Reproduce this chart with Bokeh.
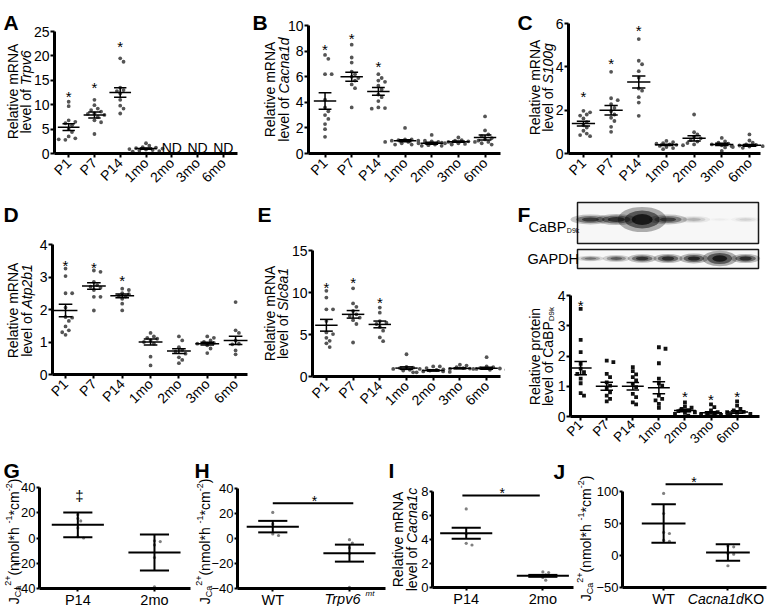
import math
from bokeh.plotting import figure
from bokeh.models import Range1d, FixedTicker
from bokeh.layouts import row, column
from bokeh.embed import file_html
from bokeh.resources import INLINE
from bokeh.core.properties import value

FONT = "Liberation Sans"
NAN = float("nan")

# ------------------------------------------------------------------ data
ages = ["P1", "P7", "P14", "1mo", "2mo", "3mo", "6mo"]

trpv6_pts = [[10.6, 9.7, 6.8, 6.5, 6.2, 5.8, 5.0, 4.4, 3.5, 3.1, 2.8, 2.9],
             [11.0, 9.9, 9.2, 8.9, 8.6, 8.2, 8.1, 7.9, 7.5, 6.8, 6.4, 4.0],
             [19.5, 18.8, 13.5, 13.0, 12.8, 12.3, 11.0, 9.8, 9.2, 8.2],
             [2.1, 1.6, 1.3, 1.2, 1.1, 1.0, 0.9, 0.8, 0.7, 0.6, 0.5, 0.4],
             [], [], []]
trpv6_mean = [5.4, 7.9, 12.5, 1.0, NAN, NAN, NAN]
trpv6_sem = [0.7, 0.6, 0.95, 0.15, NAN, NAN, NAN]
trpv6_star = [13.4, 15.3, 23.8, NAN, NAN, NAN, NAN]
trpv6_nd = ["", "", "", "", "ND", "ND", "ND"]
nd_level = 1.2

cacna1d_pts = [[7.7, 7.4, 6.2, 6.2, 4.2, 3.6, 3.3, 3.0, 2.7, 2.3, 1.9, 1.3],
               [8.5, 7.5, 7.1, 6.4, 6.2, 6.0, 5.9, 5.7, 5.4, 5.1, 3.6],
               [6.2, 5.9, 5.7, 5.6, 5.3, 5.0, 4.6, 4.4, 4.1, 3.6, 3.55, 3.5],
               [2.0, 1.1, 1.1, 1.05, 1.0, 1.0, 1.0, 0.9, 0.9, 0.8, 0.7, 0.7],
               [1.45, 0.95, 0.9, 0.85, 0.8, 0.8, 0.75, 0.7, 0.65, 0.6, 0.6],
               [1.25, 1.05, 1.0, 0.95, 0.9, 0.9, 0.85, 0.8, 0.75, 0.7],
               [2.9, 1.8, 1.5, 1.35, 1.2, 1.1, 1.0, 0.9, 0.8, 0.7]]
cacna1d_mean = [4.1, 6.0, 4.85, 1.0, 0.8, 0.92, 1.25]
cacna1d_sem = [0.65, 0.35, 0.3, 0.08, 0.07, 0.05, 0.2]
cacna1d_star = [8.8, 9.7, 7.5, NAN, NAN, NAN, NAN]

s100g_pts = [[1.97, 1.9, 1.8, 1.75, 1.62, 1.45, 1.3, 1.2, 1.05, 0.92, 0.85, 0.8],
             [3.77, 2.55, 2.46, 2.28, 2.1, 1.95, 1.8, 1.65, 1.5, 1.23, 1.0],
             [5.28, 4.28, 4.12, 3.8, 3.5, 3.0, 2.9, 2.6, 2.35, 1.74],
             [0.58, 0.52, 0.48, 0.45, 0.42, 0.4, 0.38, 0.35, 0.3, 0.25, 0.2],
             [1.8, 0.98, 0.88, 0.78, 0.7, 0.62, 0.55, 0.48, 0.42],
             [0.72, 0.56, 0.5, 0.46, 0.42, 0.38, 0.34, 0.28, 0.12],
             [0.88, 0.6, 0.5, 0.42, 0.4, 0.37, 0.34, 0.32, 0.3, 0.26]]
s100g_mean = [1.38, 2.0, 3.3, 0.4, 0.7, 0.42, 0.38]
s100g_sem = [0.11, 0.22, 0.28, 0.03, 0.12, 0.05, 0.04]
s100g_star = [3.05, 4.55, 6.1, NAN, NAN, NAN, NAN]

atp2b1_pts = [[3.26, 3.03, 2.5, 2.5, 2.06, 1.77, 1.75, 1.65, 1.48, 1.36, 1.3, 1.22],
              [3.2, 3.16, 2.85, 2.75, 2.7, 2.67, 2.6, 2.39, 2.39, 1.97],
              [2.64, 2.6, 2.5, 2.47, 2.42, 2.4, 2.33, 2.18, 1.97],
              [1.28, 1.17, 1.13, 1.1, 1.05, 1.0, 0.95, 0.55, 0.28],
              [1.17, 1.05, 0.84, 0.76, 0.7, 0.64, 0.53, 0.45, 0.35],
              [1.17, 1.13, 1.05, 1.0, 0.97, 0.95, 0.9, 0.8, 0.66],
              [2.23, 1.36, 1.28, 1.05, 0.95, 0.93, 0.74, 0.62]]
atp2b1_mean = [1.97, 2.72, 2.42, 1.0, 0.72, 0.95, 1.05]
atp2b1_sem = [0.19, 0.1, 0.06, 0.09, 0.07, 0.04, 0.13]
atp2b1_star = [3.64, 3.57, 3.16, NAN, NAN, NAN, NAN]

slc8a1_pts = [[10.2, 9.4, 8.0, 8.0, 6.6, 5.25, 5.05, 4.6, 4.25, 3.95, 3.5],
              [10.5, 8.7, 8.3, 7.8, 7.4, 7.2, 7.0, 6.7, 6.25, 4.05],
              [8.2, 7.6, 6.6, 6.4, 6.25, 5.9, 5.45, 4.65, 4.2],
              [2.65, 1.15, 1.05, 1.0, 0.9, 0.9, 0.8, 0.7, 0.5],
              [1.2, 1.2, 1.0, 0.8, 0.7, 0.6, 0.6, 0.55, 0.5],
              [1.4, 1.3, 1.1, 1.0, 0.95, 0.9, 0.9, 0.85],
              [2.3, 1.2, 1.1, 1.0, 0.95, 0.9, 0.8, 0.8]]
slc8a1_mean = [6.1, 7.4, 6.2, 1.0, 0.72, 0.97, 0.98]
slc8a1_sem = [0.7, 0.45, 0.4, 0.15, 0.08, 0.06, 0.12]
slc8a1_star = [11.7, 12.2, 9.9, NAN, NAN, NAN, NAN]

cabp_pts = [[3.56, 2.53, 2.13, 1.74, 1.58, 1.47, 1.41, 1.25, 1.1, 0.77, 0.69],
            [1.85, 1.8, 1.41, 1.3, 1.13, 1.02, 0.91, 0.8, 0.69, 0.58, 0.5],
            [1.63, 1.5, 1.39, 1.3, 1.19, 1.08, 0.97, 0.75, 0.64, 0.47, 0.4],
            [2.29, 2.24, 1.76, 1.25, 1.1, 1.02, 0.69, 0.58, 0.53, 0.42, 0.29],
            [0.47, 0.33, 0.29, 0.25, 0.2, 0.18, 0.14, 0.12, 0.09, 0.03],
            [0.4, 0.31, 0.2, 0.14, 0.11, 0.08, 0.07, 0.05, 0.03],
            [0.5, 0.36, 0.25, 0.2, 0.15, 0.14, 0.12, 0.09, 0.07]]
cabp_mean = [1.6, 1.0, 1.0, 0.95, 0.2, 0.12, 0.15]
cabp_sem = [0.22, 0.13, 0.12, 0.2, 0.04, 0.04, 0.04]
cabp_star = [3.97, NAN, NAN, NAN, 0.97, 0.84, 0.94]

# western blot band intensities per lane (P1 .. 6mo)
blot_cabp_int = [0.75, 0.8, 1.0, 0.7, 0.2, 0.03, 0.1]
blot_gapdh_int = [0.45, 0.55, 0.8, 0.85, 0.9, 1.0, 0.85]

g_cats = ["P14", "2mo"]
g_pts = [[18.5, 15.5, 13.5, 8.0, 1.0, 0.0], [-2.2, -2.8, -5.5, -15.5, -38.7]]
g_mean = [10.4, -11.5]
g_err = [9.8, 14.3]
g_dagger = 33.4

h_cats = ["WT", "Trpv6", "mt"]
h_pts = [[20.9, 11.6, 3.7, 2.4], [-0.9, -3.6, -7.5, -12.0, -39.0]]
h_mean = [9.5, -11.7]
h_err = [4.6, 6.8]
h_sig = 28.3
h_star = 36.8

i_cats = ["P14", "2mo"]
i_pts = [[6.55, 4.46, 3.68, 3.54], [1.3, 1.25, 1.06, 0.84, 0.61]]
i_mean = [4.52, 0.97]
i_err = [0.45, 0.08]
i_sig = 7.67
i_star = 8.6

j_cats = ["WT", "Cacna1d", "KO"]
j_pts = [[97.0, 65.6, 36.0, 34.4, 24.0, 22.0], [15.0, 13.5, 3.0, 2.0, -16.0]]
j_mean = [50.0, 4.7]
j_err = [30.0, 13.0]
j_sig = 111.5
j_star = 127.0

# ------------------------------------------------------------------ helpers
AW = {' ': 278, '(': 333, ')': 333, '*': 389, '+': 584, '-': 333, 'A': 667, 'B': 667,
      'C': 722, 'D': 722, 'G': 778, 'H': 722, 'J': 500, 'K': 667, 'M': 833, 'N': 722,
      'O': 778, 'P': 667, 'R': 722, 'S': 667, 'T': 611, 'W': 944, 'a': 556, 'b': 556,
      'c': 500, 'd': 556, 'e': 556, 'f': 278, 'g': 556, 'h': 556, 'i': 222, 'k': 500,
      'l': 222, 'm': 833, 'n': 556, 'o': 556, 'p': 556, 'r': 333, 's': 500, 't': 278,
      'v': 500}


def tw(s, size):
    return sum(AW.get(c, 556) for c in s) / 1000.0 * size


def panel(box, frame, xd, yd, yticks=None, tick_font="14px", tick_out=4, axes=True):
    """One figure whose plotting frame fills the whole canvas (page pixels); the axes are
    pinned (fixed_location) at the data minimum so every text can sit inside it."""
    bx0, by0, bx1, by1 = box
    l, r, t, b = frame
    xa, xb = xd
    y0, y1 = yd
    ppx = (r - l) / (xb - xa)
    ppu = (b - t) / (y1 - y0)
    xr = (xa - (l - bx0) / ppx, xb + (bx1 - r) / ppx)
    yr = (y0 - (by1 - b) / ppu, y1 + (t - by0) / ppu)
    kw = {}
    if not axes:
        kw = dict(x_axis_location=None, y_axis_location=None)
    p = figure(width=bx1 - bx0, height=by1 - by0, x_range=Range1d(*xr),
               y_range=Range1d(*yr), output_backend="svg", toolbar_location=None,
               title=None, min_border=0, min_border_left=0, min_border_right=0,
               min_border_top=0, min_border_bottom=0, **kw)
    p.grid.visible = False
    p.outline_line_color = None
    p.background_fill_color = "white"
    p.border_fill_color = "white"
    if axes:
        for ax in (p.xaxis[0], p.yaxis[0]):
            ax.axis_line_width = 3
            ax.axis_line_color = "black"
            ax.major_tick_line_width = 2
            ax.major_tick_in = 0
            ax.major_tick_out = tick_out
            ax.minor_tick_line_width = 2
            ax.minor_tick_in = 0
            ax.minor_tick_out = tick_out
            ax.minor_tick_line_color = "black"
            ax.major_label_text_font = FONT
            ax.major_label_text_font_size = tick_font
            ax.major_label_text_color = "black"
        p.yaxis.ticker = FixedTicker(ticks=yticks, minor_ticks=[])
        p.yaxis.bounds = (y0, y1)
        p.yaxis.fixed_location = xa
        p.yaxis.major_label_standoff = 1
        p.xaxis.bounds = (xa, xb)
        p.xaxis.fixed_location = y0
    return dict(p=p, fl=bx0, fr=bx1, ft=by0, fb=by1, xr=xr, yr=yr, ppu=ppu, ppx=ppx)


def to_data(info, lx, ly):
    x0, x1 = info['xr']
    y0, y1 = info['yr']
    dx = x0 + (lx - info['fl']) / (info['fr'] - info['fl']) * (x1 - x0)
    dy = y1 - (ly - info['ft']) / (info['fb'] - info['ft']) * (y1 - y0)
    return dx, dy


def data_lx(info, xd):
    x0, x1 = info['xr']
    return info['fl'] + (xd - x0) / (x1 - x0) * (info['fr'] - info['fl'])


def put_text(info, lx, ly, t, size, style="normal", angle=0.0, align="left",
             baseline="middle"):
    dx, dy = to_data(info, lx, ly)
    info['p'].text(x=[dx], y=[dy], text=[t], angle=angle, text_font=value(FONT),
                   text_font_size=f"{size}px", text_font_style=style,
                   text_align=align, text_baseline=baseline, text_color="black")


def rot_label(info, x_px, yc_px, pieces):
    total = sum(tw(t, sz) for t, sz, st, sh in pieces)
    pos = yc_px + total / 2.0
    for t, sz, st, sh in pieces:
        put_text(info, x_px + sh, pos, t, sz,
                 style="italic" if st == 'i' else "normal", angle=math.pi / 2)
        pos -= tw(t, sz)


def h_label(info, xc, y_px, pieces):
    total = sum(tw(t, sz) for t, sz, st, sh in pieces)
    pos = xc - total / 2.0
    for t, sz, st, sh in pieces:
        put_text(info, pos, y_px + sh, t, sz,
                 style="italic" if st == 'i' else "normal")
        pos += tw(t, sz)


def letter(info, x_px, base_px, t):
    put_text(info, x_px, base_px, t, 21, style="bold", baseline="alphabetic")


def swarm(vals, ppu, ppx, d=3.9):
    placed, out = [], []
    cands = [0]
    for k in range(1, 25):
        cands += [k, -k]
    for v in vals:
        yv = v * ppu
        dx = 0.0
        for c in cands:
            dx = c * d * 0.85
            if all((dx - px) ** 2 + (yv - py) ** 2 >= d * d for px, py in placed):
                break
        placed.append((dx, yv))
        out.append(dx / ppx)
    return out


def draw_groups(info, pts, means, errs, color, size, marker, mhw, chw, lw, d=3.9):
    p = info['p']
    xs, ys = [], []
    for i, vals in enumerate(pts):
        offs = swarm(vals, info['ppu'], info['ppx'], d)
        xs += [i + o for o in offs]
        ys += list(vals)
    p.scatter(xs, ys, size=size, marker=marker, fill_color=color, line_color=None)
    idx = [i for i, m in enumerate(means) if not math.isnan(m)]
    m = [means[i] for i in idx]
    e = [errs[i] for i in idx]
    p.segment(x0=[i - mhw for i in idx], y0=m, x1=[i + mhw for i in idx], y1=m,
              line_width=lw, line_color="black")
    p.segment(x0=idx, y0=[a - b for a, b in zip(m, e)], x1=idx,
              y1=[a + b for a, b in zip(m, e)], line_width=lw, line_color="black")
    for sgn in (1, -1):
        yy = [a + sgn * b for a, b in zip(m, e)]
        p.segment(x0=[i - chw for i in idx], y0=yy, x1=[i + chw for i in idx], y1=yy,
                  line_width=lw, line_color="black")


def stars(info, xs, ys, size=15):
    idx = [i for i, v in enumerate(ys) if not math.isnan(v)]
    info['p'].text(x=[xs[i] for i in idx],
                   y=[ys[i] - 0.59 * size / info['ppu'] for i in idx],
                   text=["*"] * len(idx), text_font=value(FONT),
                   text_font_size=f"{size}px", text_align="center",
                   text_baseline="alphabetic", text_color="black")


def age_panel(box, frame, xd, yd, yticks, pts, mean, sem, star, color="#555555",
              marker="circle", age_font="14px", standoff=3):
    info = panel(box, frame, xd, yd, yticks)
    p = info['p']
    p.xaxis.ticker = FixedTicker(ticks=list(range(len(ages))), minor_ticks=[])
    p.xaxis.major_label_overrides = {i: c for i, c in enumerate(ages)}
    p.xaxis.major_label_orientation = math.pi / 4
    p.xaxis.major_label_text_font_size = age_font
    p.xaxis.major_label_standoff = standoff
    draw_groups(info, pts, mean, sem, color, 3.8, marker, 0.42, 0.24, 1.5)
    stars(info, list(range(len(ages))), star)
    return info


def mrna_label(info, xs, yc, gene, first="Relative mRNA", gene_style='i', sub=None):
    rot_label(info, xs[0], yc, [(first, 14, 'n', 0)])
    pieces = [("level of ", 14, 'n', 0), (gene, 14, gene_style, 0)]
    if sub:
        pieces.append((sub, 8, 'n', 4))
    rot_label(info, xs[1], yc, pieces)


def small_panel(box, frame, xd, yd, yticks, pts, mean, err, tick_cats, manual):
    """tick_cats: plain category names written by the axis itself;
    manual: {index: pieces} for names that mix italic and roman type."""
    info = panel(box, frame, xd, yd, yticks, tick_font="13px", tick_out=3)
    p = info['p']
    lab = [i for i in range(2) if i not in manual]
    p.xaxis.ticker = FixedTicker(ticks=lab, minor_ticks=list(manual.keys()))
    p.xaxis.major_label_overrides = {i: tick_cats[i] for i in lab}
    p.xaxis.major_label_text_font_size = "14.5px"
    p.xaxis.major_label_standoff = 0
    draw_groups(info, pts, mean, err, "#808080", 3.2, "circle", 0.34, 0.19, 2.0, 3.4)
    for i, pieces in manual.items():
        h_label(info, data_lx(info, i), 598, pieces)
    return info


# ------------------------------------------------------------------ row 1
A = age_panel((0, 0, 250, 196), (54, 237, 31, 153), (-0.55, 6.55), (0, 25),
              [0, 5, 10, 15, 20, 25], trpv6_pts, trpv6_mean, trpv6_sem, trpv6_star)
nd_idx = [i for i, t in enumerate(trpv6_nd) if t]
A['p'].text(x=nd_idx, y=[nd_level] * len(nd_idx), text=[trpv6_nd[i] for i in nd_idx],
            text_font=value(FONT), text_font_size="14px", text_align="center",
            text_baseline="middle", text_color="black")
letter(A, 3, 22, "A")
mrna_label(A, (12, 25), 91, "Trpv6")

B = age_panel((250, 0, 505, 196), (308, 500, 25, 153), (-0.62, 6.58), (0, 10),
              [0, 2, 4, 6, 8, 10], cacna1d_pts, cacna1d_mean, cacna1d_sem, cacna1d_star)
letter(B, 252, 22, "B")
mrna_label(B, (269, 283), 89, "Cacna1d")

C = age_panel((505, 0, 768, 196), (568, 760, 23, 153), (-0.54, 6.4), (0, 6),
              [0, 2, 4, 6], s100g_pts, s100g_mean, s100g_sem, s100g_star)
letter(C, 517, 22, "C")
mrna_label(C, (534, 547), 87, "S100g")

# ------------------------------------------------------------------ row 2
D = age_panel((0, 196, 250, 448), (52, 247, 244, 374), (-0.46, 6.42), (0, 4),
              [0, 1, 2, 3, 4], atp2b1_pts, atp2b1_mean, atp2b1_sem, atp2b1_star)
letter(D, 3, 214, "D")
mrna_label(D, (12, 26), 310, "Atp2b1")

E = age_panel((250, 196, 505, 448), (312, 500, 250, 376), (-0.52, 6.52), (0, 15),
              [0, 5, 10, 15], slc8a1_pts, slc8a1_mean, slc8a1_sem, slc8a1_star)
letter(E, 257, 214, "E")
mrna_label(E, (269, 282), 313, "Slc8a1")

# western blot: lanes across, 0..1 from the strip bottom (280) to its top (196)
FB = panel((505, 196, 768, 280), (577, 758, 196, 280), (-0.5, 6.5), (0.0, 1.0), axes=False)
pb = FB['p']
span = 84.0
pb.quad(left=[-0.5, -0.5], right=[6.5, 6.5],
        top=[(280 - 202) / span, (280 - 249) / span],
        bottom=[(280 - 243) / span, (280 - 268) / span],
        fill_color="#f7f7f7", line_color="#1a1a1a", line_width=1.5)
lanes = list(range(7))
cabp_h = [7, 8, 18, 7, 5, 3, 4]
cabp_w = [1.1, 1.1, 1.35, 1.05, 0.9, 0.7, 0.8]
gap_h = [4, 5, 6, 6.5, 7, 11, 6.5]
gap_w = [0.75, 0.75, 0.8, 0.8, 0.8, 0.95, 0.8]
for f, a in ((1.4, 0.3), (1.0, 0.5), (0.6, 0.7)):
    pb.ellipse(x=lanes, y=[(280 - 219) / span] * 7, width=[w * f for w in cabp_w],
               height=[h * f / span for h in cabp_h], fill_color="black",
               fill_alpha=[v * a for v in blot_cabp_int], line_color=None)
    pb.ellipse(x=lanes, y=[(280 - 258) / span] * 7, width=[w * f for w in gap_w],
               height=[h * f / span for h in gap_h], fill_color="black",
               fill_alpha=[v * a for v in blot_gapdh_int], line_color=None)
put_text(FB, 528, 226, "CaBP", 14.5)
put_text(FB, 528 + tw("CaBP", 14.5) + 0.5, 229.5, "D9k", 7)
put_text(FB, 527, 258, "GAPDH", 14.5)
letter(FB, 517, 214, "F")

F = age_panel((505, 280, 768, 448), (570, 759, 295, 416), (-0.39, 6.86), (0, 4),
              [0, 1, 2, 3, 4], cabp_pts, cabp_mean, cabp_sem, cabp_star,
              color="#111111", marker="square", age_font="13.5px", standoff=2)
mrna_label(F, (534, 547), 356, "CaBP", first="Relative protein", gene_style='n', sub="D9k")

# ------------------------------------------------------------------ row 3
jca = [("J", 14, 'n', 0), ("Ca", 9, 'n', 4), ("2+", 9, 'n', -6), (" (nmol*h", 14, 'n', 0),
       ("-1", 9, 'n', -5), ("*cm", 14, 'n', 0), ("-2", 9, 'n', -5), (")", 14, 'n', 0)]

G = small_panel((0, 448, 191, 606), (39, 190, 487, 588), (-0.5, 1.47), (-40, 40),
                [-40, -20, 0, 20, 40], g_pts, g_mean, g_err, g_cats, {})
G['p'].text(x=[0.02], y=[g_dagger], text=["\u2021"], text_font=value(FONT),
            text_font_size="15px", text_align="center", text_baseline="middle",
            text_color="black")
rot_label(G, 13, 541, jca)
letter(G, 3, 470, "G")

H = small_panel((191, 448, 387, 606), (237, 385, 488, 588), (-0.46, 1.47), (-40, 40),
                [-40, -20, 0, 20, 40], h_pts, h_mean, h_err, h_cats,
                {1: [(h_cats[1] + " ", 14.5, 'i', 0), (h_cats[2], 8, 'i', -5)]})
H['p'].segment(x0=[0.0], y0=[h_sig], x1=[1.05], y1=[h_sig], line_width=2, line_color="black")
stars(H, [0.545], [h_star], 14)
rot_label(H, 204, 541, jca)
letter(H, 194, 470, "H")

I = small_panel((387, 448, 574, 606), (432, 573, 491, 587), (-0.44, 1.4), (0, 8),
                [0, 2, 4, 6, 8], i_pts, i_mean, i_err, i_cats, {})
I['p'].segment(x0=[-0.05], y0=[i_sig], x1=[0.96], y1=[i_sig], line_width=2, line_color="black")
stars(I, [0.47], [i_star], 14)
rot_label(I, 397, 539, [("Relative mRNA", 14, 'n', 0)])
rot_label(I, 411, 539, [("level of ", 14, 'n', 0), ("Cacna1c", 14, 'i', 0)])
letter(I, 388, 470, "I")
letter(I, 553, 471, "J")

J = small_panel((574, 448, 768, 606), (622, 766, 491, 587), (-0.64, 1.6), (-50, 100),
                [-50, 0, 50, 100], j_pts, j_mean, j_err, j_cats,
                {1: [(j_cats[1], 14, 'i', 0), (" " + j_cats[2], 14, 'n', 0)]})
J['p'].segment(x0=[0.03], y0=[j_sig], x1=[0.92], y1=[j_sig], line_width=2, line_color="black")
stars(J, [0.47], [j_star], 14)
rot_label(J, 585, 538, jca)

layout = column(
    row(A['p'], B['p'], C['p']),
    row(D['p'], E['p'], column(FB['p'], F['p'])),
    row(G['p'], H['p'], I['p'], J['p']))

open("out.html", "w").write(file_html(layout, INLINE))
